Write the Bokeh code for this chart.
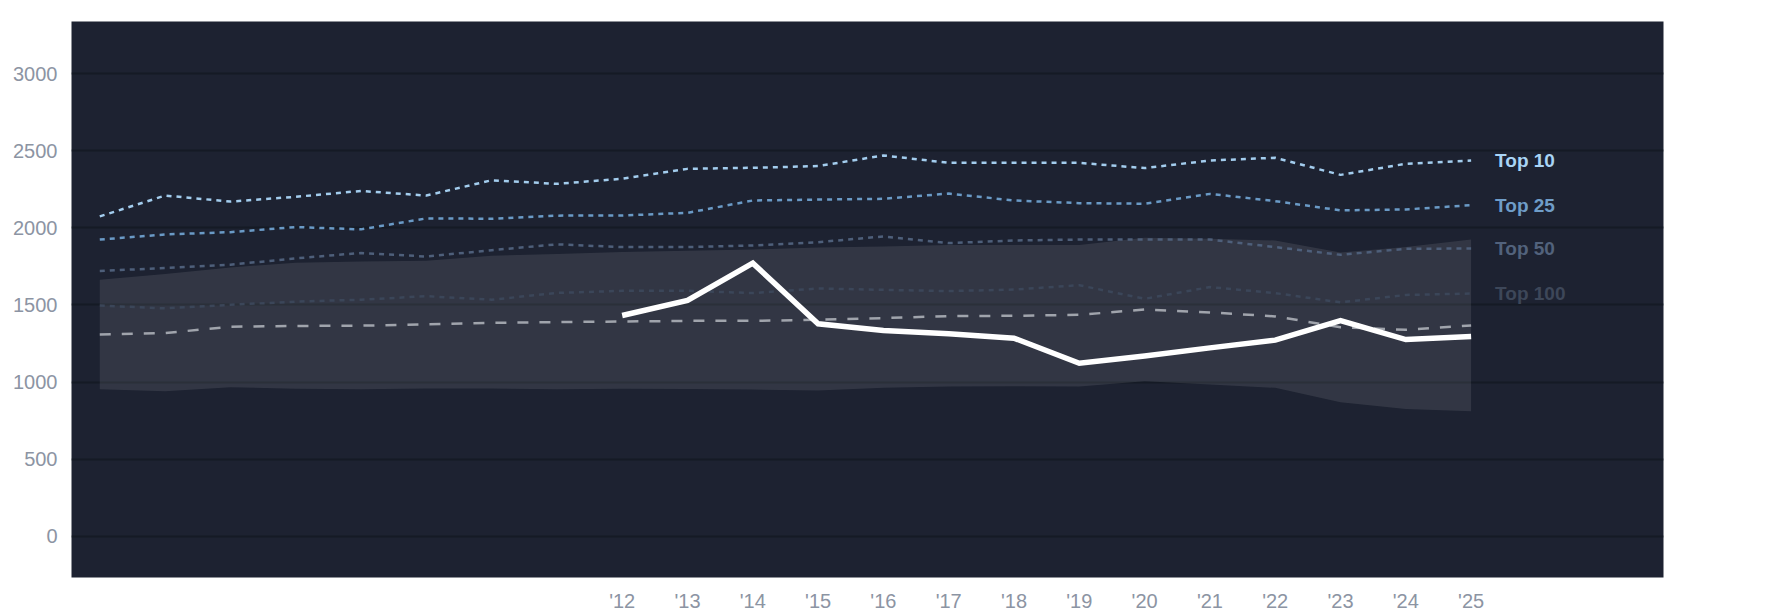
from bokeh.plotting import figure
from bokeh.models import FixedTicker, ColumnDataSource
from bokeh.core.properties import value
from bokeh.embed import file_html
from bokeh.resources import INLINE

years = list(range(2004, 2026))
top10 = [2074, 2209, 2170, 2201, 2239, 2209, 2308, 2285, 2318, 2382, 2389, 2400, 2469, 2421, 2421, 2421, 2387, 2436, 2454, 2343, 2415, 2436]
top25 = [1924, 1957, 1972, 2005, 1990, 2061, 2059, 2079, 2080, 2097, 2177, 2183, 2188, 2222, 2177, 2160, 2156, 2220, 2173, 2113, 2119, 2147]
top50 = [1720, 1740, 1761, 1802, 1837, 1814, 1855, 1893, 1875, 1875, 1886, 1907, 1944, 1901, 1918, 1924, 1924, 1924, 1875, 1825, 1864, 1866]
top100 = [1496, 1478, 1501, 1522, 1534, 1557, 1534, 1578, 1592, 1592, 1577, 1607, 1598, 1590, 1600, 1628, 1540, 1616, 1577, 1517, 1565, 1574]
median = [1308, 1318, 1359, 1364, 1366, 1374, 1384, 1389, 1393, 1397, 1397, 1404, 1415, 1428, 1430, 1436, 1471, 1452, 1426, 1356, 1339, 1367]
band_hi = [1664, 1700, 1743, 1774, 1781, 1786, 1819, 1830, 1843, 1852, 1860, 1873, 1879, 1888, 1888, 1888, 1936, 1929, 1918, 1840, 1875, 1924]
band_lo = [954, 941, 967, 957, 954, 959, 959, 954, 957, 955, 952, 946, 963, 972, 974, 972, 1006, 985, 963, 870, 826, 811]
recent_years = list(range(2012, 2026))
recent = [1432, 1530, 1771, 1378, 1335, 1313, 1285, 1122, 1170, 1222, 1272, 1399, 1276, 1295]
tick_years = list(range(2012, 2026))
tick_labels = ["'12", "'13", "'14", "'15", "'16", "'17", "'18", "'19", "'20", "'21", "'22", "'23", "'24", "'25"]
y_ticks = [0, 500, 1000, 1500, 2000, 2500, 3000]
label_names = ["Top 10", "Top 25", "Top 50", "Top 100"]

FONT = "Liberation Sans"
BG = "#1d2231"

p = figure(frame_width=1592, frame_height=556, output_backend="svg", toolbar_location=None,
           x_range=(2003.567, 2027.946), y_range=(-266, 3337),
           min_border_left=71, min_border_top=21, min_border_right=100, min_border_bottom=35)
p.background_fill_color = BG
p.border_fill_color = "white"
p.outline_line_color = None

# band
p.varea(x=years, y1=band_lo, y2=band_hi, fill_color="#ffffff", fill_alpha=0.095)

series = [top10, top25, top50, top100]
colors = ["#a3cdee", "#6a9ac6", "#4e5f7a", "#3b4659"]
label_colors = ["#a9d4f5", "#6f9dc8", "#52627c", "#3d4759"]
for s, c in zip(series, colors):
    p.line(years, s, line_color=c, line_width=2.5, line_dash="5 5")

p.line(years, median, line_color="#a0a4ac", line_width=2.5, line_dash="11 11")
p.line(recent_years, recent, line_color="white", line_width=5.5, line_join="miter")

src = ColumnDataSource(dict(x=[years[-1]] * 4, y=[s[-1] for s in series], t=label_names, c=label_colors))
p.text(x="x", y="y", text="t", text_color="c", source=src, x_offset=24, text_baseline="middle",
       text_align="left", text_font=value(FONT), text_font_size="19px", text_font_style="bold")

p.xgrid.grid_line_color = None
p.ygrid.grid_line_color = "#151a25"
p.ygrid.grid_line_width = 2
p.ygrid.ticker = FixedTicker(ticks=y_ticks)

p.yaxis.ticker = FixedTicker(ticks=y_ticks)
p.xaxis.ticker = FixedTicker(ticks=tick_years)
p.xaxis.major_label_overrides = {y: l for y, l in zip(tick_years, tick_labels)}
for ax in (p.xaxis, p.yaxis):
    ax.axis_line_color = None
    ax.major_tick_line_color = None
    ax.minor_tick_line_color = None
    ax.major_tick_out = 0
    ax.major_tick_in = 0
    ax.major_label_text_color = "#8c94a3"
    ax.major_label_text_font = FONT
    ax.major_label_text_font_size = "20px"
p.yaxis.major_label_standoff = 14
p.xaxis.major_label_standoff = 12

open("out.html", "w").write(file_html(p, INLINE))
